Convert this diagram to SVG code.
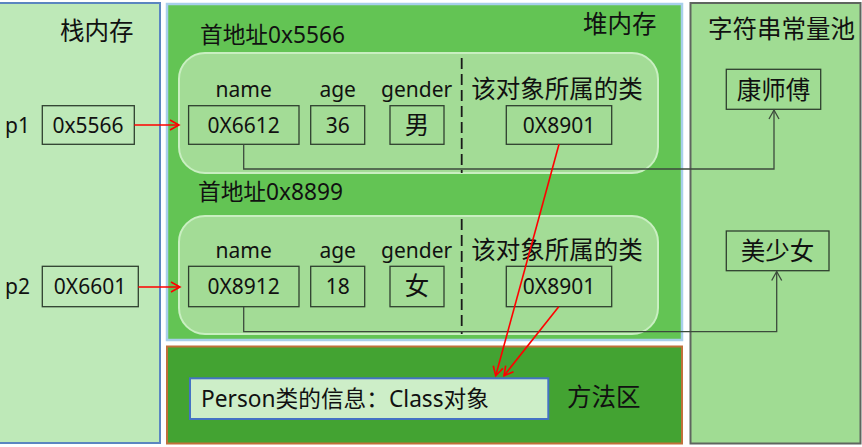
<svg xmlns="http://www.w3.org/2000/svg" width="862" height="447" viewBox="0 0 862 447">
<defs>
<marker id="ar" markerWidth="12" markerHeight="12" refX="10" refY="6" orient="auto" markerUnits="userSpaceOnUse">
<path d="M1,1 L10,6 L1,11" fill="none" stroke="#ff0000" stroke-width="1.6"/>
</marker>
<marker id="ak" markerWidth="12" markerHeight="12" refX="10" refY="6" orient="auto" markerUnits="userSpaceOnUse">
<path d="M1,1 L10,6 L1,11" fill="none" stroke="#3c4a3c" stroke-width="1.3"/>
</marker>
<style>
text{font-family:"Noto Sans","Noto Sans CJK SC",sans-serif;fill:#111}
.t{font-size:21px}
.c{font-size:24.5px}
.h{font-size:22.7px}
.m{text-anchor:middle}
.box{fill:none;stroke:#2f3f2f;stroke-width:1.3}
.obj{fill:#a3dc96;stroke:#c9efc1;stroke-width:2}
.red{fill:none;stroke:#ff0000;stroke-width:1.6;marker-end:url(#ar)}
.blk{fill:none;stroke:#3c4a3c;stroke-width:1.3;marker-end:url(#ak)}
.dash{stroke:#1a1a1a;stroke-width:1.8;stroke-dasharray:11,5}
</style>
</defs>

<g id="stack">
<rect x="-2" y="3" width="162" height="440" fill="#bee9b8" stroke="#5b86c0" stroke-width="2"/>
<text class="c" x="60" y="40">栈内存</text>
</g>
<g id="heap">
<rect x="167" y="4" width="515" height="336" fill="#63c454" stroke="#a8cfeb" stroke-width="2.5"/>
<text class="c" x="583" y="33">堆内存</text>
</g>
<g id="method-area">
<rect x="167" y="346.5" width="515" height="97" fill="#43a332" stroke="#c0703a" stroke-width="2"/>
<text class="c" x="567" y="406">方法区</text>
</g>
<g id="string-pool">
<rect x="690.5" y="3" width="170" height="440.5" fill="#a0dc93" stroke="#5f665f" stroke-width="2"/>
<text class="c" x="708" y="38">字符串常量池</text>
</g>

<g id="p1">
<text class="t" x="5" y="133">p1</text>
<rect class="box" x="42.3" y="105.7" width="92" height="38.6"/>
<text class="t m" x="88" y="133">0x5566</text>
</g>
<g id="p2">
<text class="t" x="5" y="294">p2</text>
<rect class="box" x="42.3" y="266.3" width="96" height="40.4"/>
<text class="t m" x="90" y="294">0X6601</text>
</g>

<g id="object1">
<text class="h" x="200" y="43">首地址0x5566</text>
<rect class="obj" x="179" y="53" width="479" height="120" rx="26"/>
<line class="dash" x1="461.7" y1="58" x2="461.7" y2="173"/>
<text class="t m" x="243.7" y="97">name</text>
<text class="t m" x="337.7" y="97">age</text>
<text class="t m" x="416.7" y="97">gender</text>
<text class="c m" x="557" y="98">该对象所属的类</text>
<rect class="box" x="188.6" y="105.7" width="110.4" height="38.6"/>
<text class="t m" x="243.7" y="133">0X6612</text>
<rect class="box" x="310.7" y="105.7" width="54" height="38.6"/>
<text class="t m" x="337.7" y="133">36</text>
<rect class="box" x="390" y="105.7" width="54" height="38.6"/>
<text class="c m" x="417" y="134">男</text>
<rect class="box" x="506.3" y="105.7" width="105.4" height="38.6"/>
<text class="t m" x="559" y="133">0X8901</text>
</g>

<g id="object2">
<text class="h" x="198" y="200">首地址0x8899</text>
<rect class="obj" x="179" y="216" width="479" height="118" rx="26"/>
<line class="dash" x1="461.7" y1="219" x2="461.7" y2="334"/>
<text class="t m" x="243.7" y="258">name</text>
<text class="t m" x="337.7" y="258">age</text>
<text class="t m" x="416.7" y="258">gender</text>
<text class="c m" x="557" y="259">该对象所属的类</text>
<rect class="box" x="188.6" y="266.3" width="110.4" height="40.4"/>
<text class="t m" x="243.7" y="294">0X8912</text>
<rect class="box" x="310.7" y="266.3" width="54" height="40.4"/>
<text class="t m" x="337.7" y="294">18</text>
<rect class="box" x="390" y="266.3" width="54" height="40.4"/>
<text class="c m" x="417" y="295">女</text>
<rect class="box" x="506.3" y="266.3" width="105.4" height="40.4"/>
<text class="t m" x="559" y="294">0X8901</text>
</g>

<g id="kangshifu">
<rect class="box" x="726.3" y="69.3" width="94.4" height="40"/>
<text class="c m" x="773.5" y="99">康师傅</text>
</g>
<g id="meishaonv">
<rect class="box" x="726.3" y="231" width="102.7" height="39.7"/>
<text class="c m" x="777.5" y="260">美少女</text>
</g>
<g id="class-info">
<rect x="190" y="378.3" width="358.3" height="40.7" fill="#cdeec8" stroke="#4472c4" stroke-width="2"/>
<text x="201" y="407" style="font-size:22.7px">Person类的信息：Class对象</text>
</g>

<g id="connectors">
<line class="red" x1="134.3" y1="125" x2="179" y2="125"/>
<line class="red" x1="138.3" y1="287" x2="180" y2="287"/>
<polyline class="blk" points="243.7,144.3 243.7,169 774,169 774,110"/>
<polyline class="blk" points="243.7,306.7 243.7,331.7 776.7,331.7 776.7,271.5"/>
<line class="red" x1="559" y1="144.3" x2="495.7" y2="375.7"/>
<line class="red" x1="558.7" y1="306.7" x2="504" y2="375.7"/>
</g>
</svg>
